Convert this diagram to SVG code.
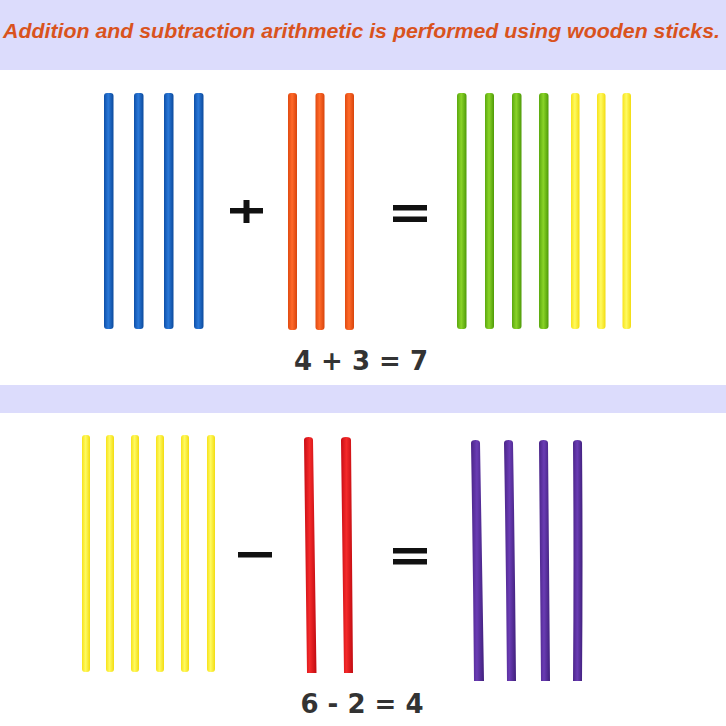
<svg xmlns="http://www.w3.org/2000/svg" width="726" height="726" viewBox="0 0 726 726">
<defs>
<linearGradient id="gBlue" x1="0" x2="1" y1="0" y2="0"><stop offset="0" stop-color="#0d4fa8"/><stop offset="0.45" stop-color="#2a78d8"/><stop offset="1" stop-color="#0c4a9c"/></linearGradient>
<linearGradient id="gOrange" x1="0" x2="1" y1="0" y2="0"><stop offset="0" stop-color="#e04a10"/><stop offset="0.45" stop-color="#ff6a2a"/><stop offset="1" stop-color="#d8440c"/></linearGradient>
<linearGradient id="gGreen" x1="0" x2="1" y1="0" y2="0"><stop offset="0" stop-color="#5aa80e"/><stop offset="0.45" stop-color="#8ad428"/><stop offset="1" stop-color="#4e9a08"/></linearGradient>
<linearGradient id="gYellow" x1="0" x2="1" y1="0" y2="0"><stop offset="0" stop-color="#f7e21a"/><stop offset="0.45" stop-color="#fffa60"/><stop offset="1" stop-color="#f2dc10"/></linearGradient>
<linearGradient id="gRed" x1="0" x2="1" y1="0" y2="0"><stop offset="0" stop-color="#c80c14"/><stop offset="0.45" stop-color="#f42a2a"/><stop offset="1" stop-color="#c00a10"/></linearGradient>
<linearGradient id="gPurple" x1="0" x2="1" y1="0" y2="0"><stop offset="0" stop-color="#4a2488"/><stop offset="0.45" stop-color="#6a3cb4"/><stop offset="1" stop-color="#40207c"/></linearGradient>
</defs>
<style>
.band{fill:#dcdcfc}
.title{font-family:"Liberation Sans",Arial,sans-serif;font-weight:bold;font-style:italic;font-size:19.5px;fill:#d9531e}
.eq{font-family:"DejaVu Sans",Verdana,sans-serif;font-weight:bold;font-size:26px;fill:#333333}
.op{fill:#111111}
.blue{fill:url(#gBlue)}
.orange{fill:url(#gOrange)}
.green{fill:url(#gGreen)}
.yellow{fill:url(#gYellow)}
.red{fill:url(#gRed)}
.purple{fill:url(#gPurple)}
</style>
<rect width="726" height="726" fill="#ffffff"/>
<rect class="band" x="0" y="0" width="726" height="70"/>
<rect class="band" x="0" y="385" width="726" height="28"/>
<text class="title" x="3" y="38" textLength="717" lengthAdjust="spacingAndGlyphs">Addition and subtraction arithmetic is performed using wooden sticks.</text>

<g id="addition-left">
<rect class="blue" x="104" y="93" width="9.5" height="236" rx="3"/>
<rect class="blue" x="134" y="93" width="9.5" height="236" rx="3"/>
<rect class="blue" x="164" y="93" width="9.5" height="236" rx="3"/>
<rect class="blue" x="194" y="93" width="9.5" height="236" rx="3"/>
</g>
<g id="plus">
<rect class="op" x="230" y="208" width="33" height="5.5"/>
<rect class="op" x="243.5" y="200" width="6" height="23"/>
</g>
<g id="addition-right">
<rect class="orange" x="288" y="93" width="9" height="237" rx="3"/>
<rect class="orange" x="315.5" y="93" width="9" height="237" rx="3"/>
<rect class="orange" x="345" y="93" width="9" height="237" rx="3"/>
</g>
<g id="equals-top">
<rect class="op" x="393" y="205" width="34" height="5.5"/>
<rect class="op" x="393" y="216.5" width="34" height="5.5"/>
</g>
<g id="addition-result">
<rect class="green" x="457" y="93" width="9.5" height="236" rx="3"/>
<rect class="green" x="485" y="93" width="9" height="236" rx="3"/>
<rect class="green" x="512" y="93" width="9.5" height="236" rx="3"/>
<rect class="green" x="539" y="93" width="9.5" height="236" rx="3"/>
<rect class="yellow" x="571" y="93" width="8.5" height="236" rx="3"/>
<rect class="yellow" x="597" y="93" width="8.5" height="236" rx="3"/>
<rect class="yellow" x="622.5" y="93" width="8.5" height="236" rx="3"/>
</g>
<text class="eq" x="361" y="370" text-anchor="middle">4 + 3 = 7</text>

<g id="subtraction-left">
<rect class="yellow" x="82" y="435" width="8" height="237" rx="3"/>
<rect class="yellow" x="106" y="435" width="8" height="237" rx="3"/>
<rect class="yellow" x="131" y="435" width="8" height="237" rx="3"/>
<rect class="yellow" x="156" y="435" width="8" height="237" rx="3"/>
<rect class="yellow" x="181" y="435" width="8" height="237" rx="3"/>
<rect class="yellow" x="207" y="435" width="8" height="237" rx="3"/>
</g>
<g id="minus">
<rect class="op" x="238" y="552" width="34" height="5.5"/>
</g>
<g id="subtraction-right">
<path class="red" d="M304,440 Q304,437 308.5,437 Q313,437 313,440 L316.5,673 L307,673 Z"/>
<path class="red" d="M341,440 Q341,437 346,437 Q351,437 351,440 L353,673 L344,673 Z"/>
</g>
<g id="equals-bottom">
<rect class="op" x="393" y="548" width="34" height="5.5"/>
<rect class="op" x="393" y="559" width="34" height="5.5"/>
</g>
<g id="subtraction-result">
<path class="purple" d="M471,443 Q471,440 475.5,440 Q480,440 480,443 Q482,560 484,681 L474,681 Q473,560 471,443 Z"/>
<path class="purple" d="M504,443 Q504,440 508.5,440 Q513,440 513,443 Q515,560 516,681 L507,681 Q506,560 504,443 Z"/>
<path class="purple" d="M539,443 Q539,440 543.5,440 Q548,440 548,443 Q549,560 550,681 L541,681 Q540,560 539,443 Z"/>
<path class="purple" d="M573,443 Q573,440 577.5,440 Q582,440 582,443 Q583,560 582,681 L573,681 Q574,560 573,443 Z"/>
</g>
<text class="eq" x="362" y="713" text-anchor="middle">6 - 2 = 4</text>
</svg>
